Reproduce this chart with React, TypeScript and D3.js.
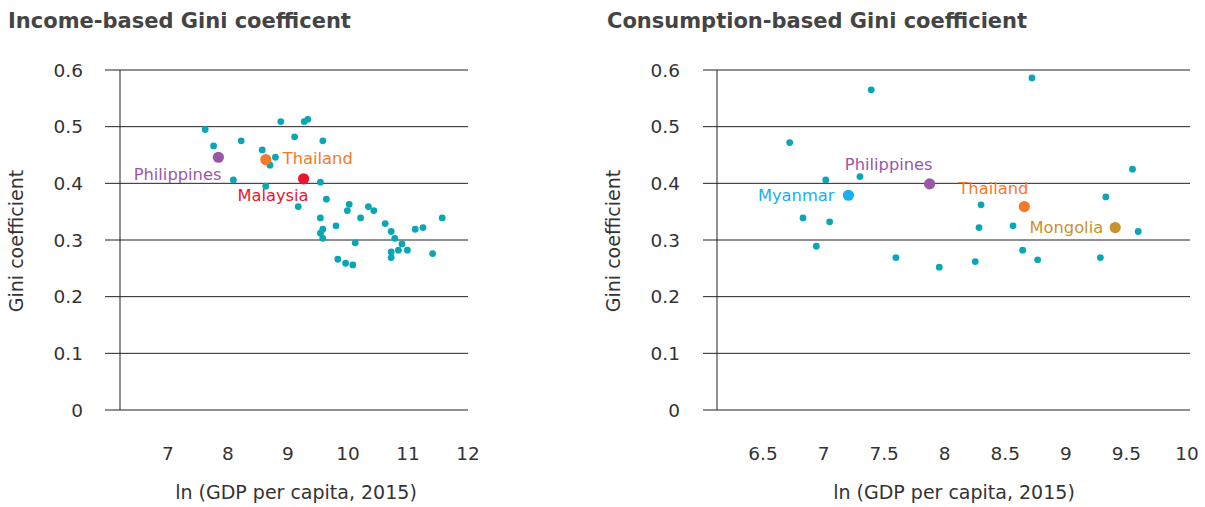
import React from "react";
import * as d3 from "d3";

// Income-based Gini vs ln(GDP per capita), economies shown as small teal dots
const incomeLnGdp = [
  7.62, 8.88, 9.11, 7.76, 8.22, 8.57, 8.79, 8.7, 8.09, 8.63, 9.17, 9.27, 9.33, 9.58,
  9.54, 9.64, 10.02, 9.99, 10.34, 10.43, 9.54, 10.21, 9.8, 10.62, 10.72, 10.78, 11.12,
  11.25, 11.57, 9.58, 9.54, 9.58, 10.12, 10.9, 10.84, 10.99, 10.72, 10.72, 11.41, 9.83,
  9.96, 10.08,
];
const incomeGini = [
  0.495, 0.509, 0.482, 0.466, 0.475, 0.459, 0.446, 0.432, 0.406, 0.395, 0.359, 0.509,
  0.513, 0.475, 0.402, 0.372, 0.363, 0.352, 0.359, 0.352, 0.339, 0.339, 0.325, 0.329,
  0.315, 0.303, 0.319, 0.322, 0.339, 0.319, 0.312, 0.303, 0.295, 0.293, 0.282, 0.282,
  0.279, 0.269, 0.276, 0.266, 0.259, 0.256,
];

// Highlighted economies, income panel
const incomeNames = ["Philippines", "Thailand", "Malaysia"];
const incomeHiLnGdp = [7.84, 8.63, 9.26];
const incomeHiGini = [0.446, 0.442, 0.408];

// Consumption-based Gini vs ln(GDP per capita)
const consLnGdp = [
  7.393, 6.72, 7.018, 7.3, 6.83, 7.05, 6.94, 7.597, 7.955, 8.72, 9.55, 9.33, 8.3, 8.283,
  8.564, 9.597, 8.643, 8.767, 9.285, 8.252,
];
const consGini = [
  0.565, 0.472, 0.406, 0.412, 0.339, 0.332, 0.289, 0.269, 0.252, 0.586, 0.425, 0.376,
  0.362, 0.322, 0.325, 0.315, 0.282, 0.265, 0.269, 0.262,
];

// Highlighted economies, consumption panel
const consNames = ["Myanmar", "Philippines", "Thailand", "Mongolia"];
const consHiLnGdp = [7.205, 7.875, 8.657, 9.407];
const consHiGini = [0.379, 0.399, 0.359, 0.322];

// Axis ticks
const giniTicks = [0, 0.1, 0.2, 0.3, 0.4, 0.5, 0.6];
const incomeXTicks = [7, 8, 9, 10, 11, 12];
const consXTicks = [6.5, 7, 7.5, 8, 8.5, 9, 9.5, 10];

const TEAL = "#0aa6b4";
const countryColor: Record<string, string> = {
  Philippines: "#9a57a7",
  Thailand: "#f37a2b",
  Malaysia: "#e7182e",
  Myanmar: "#19aeef",
  Mongolia: "#c8922f",
};

type LabelPos = { dx: number; dy: number; anchor: "start" | "middle" | "end" };
const incomeLabelPos: Record<string, LabelPos> = {
  Philippines: { dx: 3, dy: 17, anchor: "end" },
  Thailand: { dx: 17, dy: -1, anchor: "start" },
  Malaysia: { dx: 5, dy: 17, anchor: "end" },
};
const consLabelPos: Record<string, LabelPos> = {
  Myanmar: { dx: -14, dy: 0, anchor: "end" },
  Philippines: { dx: 3, dy: -19, anchor: "end" },
  Thailand: { dx: 4, dy: -18, anchor: "end" },
  Mongolia: { dx: -12, dy: 0, anchor: "end" },
};

const FONT = "'DejaVu Sans', sans-serif";
const TEXT = "#333";

type PanelProps = {
  title: string;
  titleX: number;
  axisX: number;
  gridStart: number;
  gridEnd: number;
  xDomain: [number, number];
  xRange: [number, number];
  xTicks: number[];
  xs: number[];
  ys: number[];
  names: string[];
  hx: number[];
  hy: number[];
  labelPos: Record<string, LabelPos>;
};

const y = d3.scaleLinear().domain([0, 0.6]).range([410, 70]);

function Panel(p: PanelProps) {
  const x = d3.scaleLinear().domain(p.xDomain).range(p.xRange);
  const mid = (p.xRange[0] + p.xRange[1]) / 2;
  return (
    <g>
      <text x={p.titleX} y={28} fontFamily={FONT} fontSize={21} fontWeight={700} fill="#444">
        {p.title}
      </text>
      {giniTicks.map((t) => (
        <g key={t}>
          <line
            x1={p.gridStart}
            x2={p.gridEnd}
            y1={y(t)}
            y2={y(t)}
            stroke="#222"
            strokeWidth={1}
          />
          <text
            x={p.axisX - 37}
            y={y(t)}
            textAnchor="end"
            dominantBaseline="central"
            fontFamily={FONT}
            fontSize={18.5}
            fill={TEXT}
          >
            {d3.format("~g")(t)}
          </text>
        </g>
      ))}
      <line x1={p.axisX} x2={p.axisX} y1={70} y2={410} stroke="#222" strokeWidth={1} />
      {p.xTicks.map((t) => (
        <text
          key={t}
          x={x(t)}
          y={453}
          textAnchor="middle"
          dominantBaseline="central"
          fontFamily={FONT}
          fontSize={18.5}
          fill={TEXT}
        >
          {String(t)}
        </text>
      ))}
      <text
        x={mid + 2}
        y={492}
        textAnchor="middle"
        dominantBaseline="central"
        fontFamily={FONT}
        fontSize={19}
        fill={TEXT}
      >
        ln (GDP per capita, 2015)
      </text>
      <text
        transform={`translate(${p.axisX - 104},241) rotate(-90)`}
        textAnchor="middle"
        dominantBaseline="central"
        fontFamily={FONT}
        fontSize={19}
        fill={TEXT}
      >
        Gini coefficient
      </text>
      {p.xs.map((v, i) => (
        <circle key={i} cx={x(v)} cy={y(p.ys[i])} r={3.4} fill={TEAL} />
      ))}
      {p.names.map((n, i) => {
        const cx = x(p.hx[i]);
        const cy = y(p.hy[i]);
        const lp = p.labelPos[n];
        return (
          <g key={n}>
            <circle cx={cx} cy={cy} r={5.6} fill={countryColor[n]} />
            <text
              x={cx + lp.dx}
              y={cy + lp.dy}
              textAnchor={lp.anchor}
              dominantBaseline="central"
              fontFamily={FONT}
              fontSize={16.3}
              fill={countryColor[n]}
            >
              {n}
            </text>
          </g>
        );
      })}
    </g>
  );
}

export default function App() {
  return (
    <svg
      width={1205}
      height={507}
      style={{ position: "absolute", left: 0, top: 0, background: "#fff" }}
    >
      <Panel
        title="Income-based Gini coefficent"
        titleX={8}
        axisX={120}
        gridStart={105}
        gridEnd={468}
        xDomain={[6.2, 12]}
        xRange={[120, 468]}
        xTicks={incomeXTicks}
        xs={incomeLnGdp}
        ys={incomeGini}
        names={incomeNames}
        hx={incomeHiLnGdp}
        hy={incomeHiGini}
        labelPos={incomeLabelPos}
      />
      <Panel
        title="Consumption-based Gini coefficient"
        titleX={607}
        axisX={717}
        gridStart={703}
        gridEnd={1190}
        xDomain={[6.12, 10]}
        xRange={[717, 1187]}
        xTicks={consXTicks}
        xs={consLnGdp}
        ys={consGini}
        names={consNames}
        hx={consHiLnGdp}
        hy={consHiGini}
        labelPos={consLabelPos}
      />
    </svg>
  );
}
